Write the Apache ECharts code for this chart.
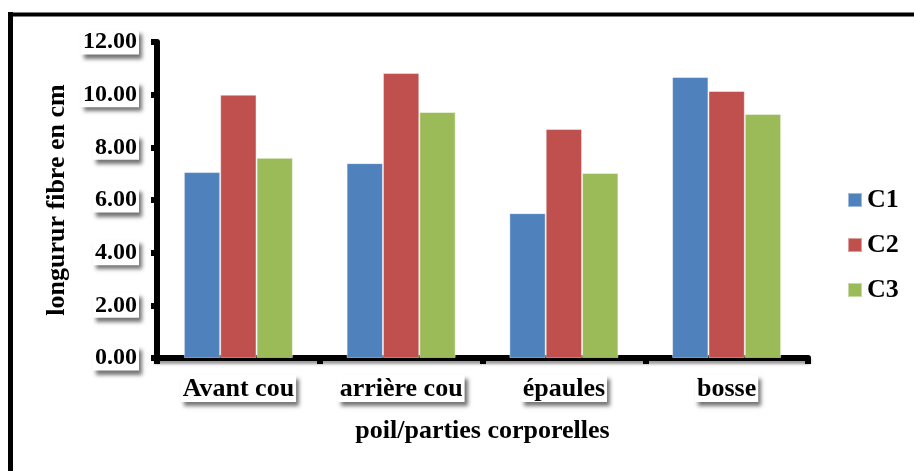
<!DOCTYPE html>
<html>
<head>
<meta charset="utf-8">
<script src="https://cdn.jsdelivr.net/npm/echarts@6/dist/echarts.min.js"></script>
<style>
html,body{margin:0;padding:0;background:#fff;}
#c{width:914px;height:471px;}
</style>
</head>
<body>
<div id="c"></div>
<script>
var categories = ['Avant cou', 'arrière cou', 'épaules', 'bosse'];
var seriesNames = ['C1', 'C2', 'C3'];
var c1 = [7.06, 7.40, 5.50, 10.67];
var c2 = [10.00, 10.82, 8.70, 10.14];
var c3 = [7.60, 9.34, 7.03, 9.27];
var colors = ['#4F81BD', '#C0504D', '#9BBB59'];
var yTicks = { min: 0, max: 12, interval: 2 };

var FONT = '"Liberation Serif", "Times New Roman", serif';
var boxShadow = {
  backgroundColor: '#fff',
  padding: [1, 2, 0, 2],
  shadowColor: 'rgba(0,0,0,0.55)',
  shadowBlur: 4,
  shadowOffsetX: 3,
  shadowOffsetY: 4
};

var chart = echarts.init(document.getElementById('c'));
var data = [c1, c2, c3];
chart.setOption({
  animation: false,
  backgroundColor: '#fff',
  color: colors,
  grid: { left: 157, right: 106, top: 42, bottom: 113, containLabel: false },
  legend: {
    orient: 'vertical',
    left: 847,
    top: 187,
    padding: 0,
    itemWidth: 14,
    itemHeight: 14,
    itemGap: 19,
    icon: 'rect',
    textStyle: { fontFamily: FONT, fontWeight: 'bold', fontSize: 26, lineHeight: 26, color: '#000' },
    data: seriesNames
  },
  xAxis: {
    type: 'category',
    data: categories,
    name: 'poil/parties corporelles',
    nameLocation: 'middle',
    nameGap: 60,
    nameTextStyle: { fontFamily: FONT, fontWeight: 'bold', fontSize: 26, color: '#000', verticalAlign: 'top' },
    axisLine: { lineStyle: { color: '#000', width: 6, shadowColor: 'rgba(0,0,0,0.4)', shadowBlur: 3, shadowOffsetY: 3 } },
    axisTick: { show: true, length: 6, lineStyle: { color: '#000', width: 6 } },
    axisLabel: Object.assign({
      fontFamily: FONT, fontWeight: 'bold', fontSize: 26, color: '#000', margin: 17
    }, boxShadow),
    splitLine: { show: false }
  },
  yAxis: {
    type: 'value',
    min: yTicks.min,
    max: yTicks.max,
    interval: yTicks.interval,
    name: 'longurur fibre en cm',
    nameLocation: 'middle',
    nameRotate: 90,
    nameGap: 83,
    nameTextStyle: { fontFamily: FONT, fontWeight: 'bold', fontSize: 26, color: '#000' },
    axisLine: { show: true, lineStyle: { color: '#000', width: 6 } },
    axisTick: { show: true, length: 6, lineStyle: { color: '#000', width: 6 } },
    axisLabel: Object.assign({
      fontFamily: FONT, fontWeight: 'bold', fontSize: 24, color: '#000', margin: 18,
      formatter: function (v) { return v.toFixed(2); }
    }, boxShadow),
    splitLine: { show: false }
  },
  series: seriesNames.map(function (n, i) {
    return {
      name: n,
      type: 'bar',
      data: data[i],
      barGap: '0%',
      barCategoryGap: '33%',
      itemStyle: { color: colors[i], borderColor: 'rgba(255,255,255,0.45)', borderWidth: 1 }
    };
  }),
  graphic: [
    { type: 'line', shape: { x1: 10.5, y1: 12, x2: 10.5, y2: 480 }, style: { stroke: '#000', lineWidth: 5 } },
    { type: 'line', shape: { x1: 8, y1: 14.5, x2: 920, y2: 14.5 }, style: { stroke: '#000', lineWidth: 4 } }
  ]
});
</script>
</body>
</html>
